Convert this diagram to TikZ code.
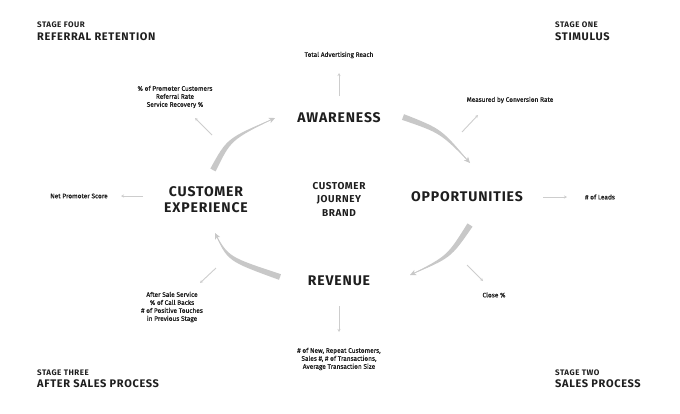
\documentclass[tikz,border=0pt]{standalone}
\usepackage{fontspec}
\setmainfont{Fira Sans}
\newfontfamily\headfont[LetterSpace=6]{Fira Sans}
\newfontfamily\metricfont[FakeBold=0.7]{Fira Sans}
\usetikzlibrary{arrows.meta,calc}
\definecolor{ink}{HTML}{1E1E1E}
\definecolor{arrowgray}{HTML}{C8C8C8}
\definecolor{thingray}{HTML}{CDCDCD}
\newcommand{\swoosh}[4]{%
  \fill[arrowgray] ($(#1)!0.5*#4!90:(#2)$) .. controls ($(#2)!0.35*#4!-90:(#1)$) .. (#3)
     .. controls ($(#2)!0.35*#4!90:(#1)$) .. ($(#1)!0.5*#4!-90:(#2)$) -- cycle;
  \draw[arrowgray, line width=0.8pt, -{Stealth[length=6pt,width=5.5pt,inset=1.5pt]}] (#1) .. controls (#2) .. (#3);
}
\begin{document}
\begin{tikzpicture}[x=1pt,y=-1pt,
  stage/.style={anchor=west, font=\headfont\bfseries\fontsize{8}{9}\selectfont, text=ink, inner sep=0},
  stagetitle/.style={anchor=west, font=\headfont\bfseries\fontsize{11}{12}\selectfont, text=ink, inner sep=0},
  mainstep/.style={font=\headfont\bfseries\fontsize{14}{16}\selectfont, text=ink, align=center, inner sep=1pt},
  core/.style={font=\headfont\bfseries\fontsize{10}{13.5}\selectfont, text=ink, align=center, inner sep=1pt},
  metric/.style={font=\metricfont\fontsize{6.5}{8}\selectfont, text=ink, align=center, inner sep=0},
  small/.style={draw=thingray, line width=0.9pt, -{Stealth[length=3pt,width=3pt]}},
]
\useasboundingbox (0,0) rectangle (680,413);

% stage labels
\node[stage] (s4a) at (37,25) {STAGE FOUR};
\node[stagetitle] (s4b) at (37,37) {REFERRAL RETENTION};
\node[stage] (s1a) at (555,25) {STAGE ONE};
\node[stagetitle] (s1b) at (555,37) {STIMULUS};
\node[stage] (s3a) at (37,373) {STAGE THREE};
\node[stagetitle] (s3b) at (37,384) {AFTER SALES PROCESS};
\node[stage] (s2a) at (555,373) {STAGE TWO};
\node[stagetitle] (s2b) at (555,384) {SALES PROCESS};

% main nodes
\node[mainstep] (aw) at (339,118) {AWARENESS};
\node[mainstep] (op) at (467,197) {OPPORTUNITIES};
\node[mainstep] (rev) at (339,281) {REVENUE};
\node[mainstep] (ce) at (206,200) {CUSTOMER\\EXPERIENCE};
\node[core] (core) at (339,199) {CUSTOMER\\JOURNEY\\BRAND};

% metrics
\node[metric] (m1) at (339,55) {Total Advertising Reach};
\node[metric] (m2) at (510,100) {Measured by Conversion Rate};
\node[metric] (m3) at (600,197) {\# of Leads};
\node[metric] (m4) at (494,295) {Close \%};
\node[metric] (m5) at (339,359) {\# of New, Repeat Customers,\\Sales \#, \# of Transactions,\\Average Transaction Size};
\node[metric] (m6) at (172,307) {After Sale Service\\\% of Call Backs\\\# of Positive Touches\\in Previous Stage};
\node[metric] (m7) at (79,196) {Net Promoter Score};
\node[metric] (m8) at (175,97) {\% of Promoter Customers\\Referral Rate\\Service Recovery \%};

% small connector coordinates
\coordinate (a1s) at (339,96);  \coordinate (a1e) at (339,73);
\coordinate (a2s) at (462,132); \coordinate (a2e) at (478,115);
\coordinate (a3s) at (543,197); \coordinate (a3e) at (567,197);
\coordinate (a4s) at (467,265); \coordinate (a4e) at (483,281);
\coordinate (a5s) at (339,306); \coordinate (a5e) at (339,332);
\coordinate (a6s) at (216,268); \coordinate (a6e) at (200,283);
\coordinate (a7s) at (143,196); \coordinate (a7e) at (121,196);
\coordinate (a8s) at (212,135); \coordinate (a8e) at (195,118);
\draw[small] (a1s) -- (a1e);
\draw[small] (a2s) -- (a2e);
\draw[small] (a3s) -- (a3e);
\draw[small] (a4s) -- (a4e);
\draw[small] (a5s) -- (a5e);
\draw[small] (a6s) -- (a6e);
\draw[small] (a7s) -- (a7e);
\draw[small] (a8s) -- (a8e);

% big cycle arrows
\coordinate (b1t) at (213,170); \coordinate (b1c) at (229,139); \coordinate (b1h) at (275,118);
\coordinate (b2t) at (403,117); \coordinate (b2c) at (441,131); \coordinate (b2h) at (470,163);
\coordinate (b3t) at (470,225); \coordinate (b3c) at (449,257); \coordinate (b3h) at (410,275);
\coordinate (b4t) at (280,277); \coordinate (b4c) at (228,259); \coordinate (b4h) at (215,233);
\swoosh{b1t}{b1c}{b1h}{6pt}
\swoosh{b2t}{b2c}{b2h}{6pt}
\swoosh{b3t}{b3c}{b3h}{6pt}
\swoosh{b4t}{b4c}{b4h}{6pt}
\end{tikzpicture}
\end{document}
